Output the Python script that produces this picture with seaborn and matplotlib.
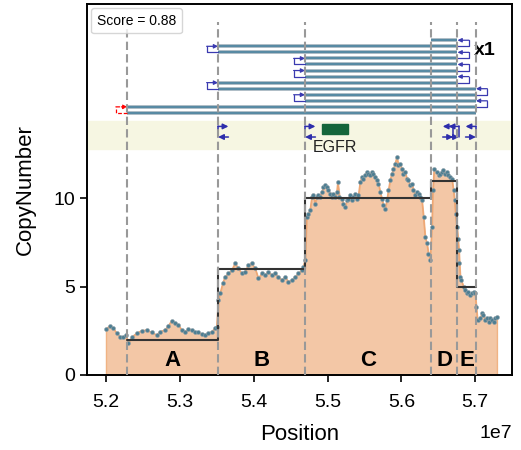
import numpy as np
import pandas as pd
import matplotlib
matplotlib.use("Agg")
import matplotlib.pyplot as plt
import seaborn as sns
from matplotlib.lines import Line2D
from matplotlib.patches import Rectangle

# ==============================================================
# Données (positions en Mb)
# ==============================================================

cn_pos = [
    52.000, 52.054, 52.099, 52.145, 52.190, 52.235, 52.271, 52.302, 52.348, 52.416,
    52.484, 52.551, 52.619, 52.687, 52.732, 52.799, 52.844, 52.890, 52.935, 52.980,
    53.026, 53.070, 53.115, 53.161, 53.206, 53.251, 53.297, 53.341, 53.386, 53.432,
    53.477, 53.500, 53.522, 53.545, 53.581, 53.612, 53.657, 53.703, 53.748, 53.793,
    53.839, 53.883, 53.928, 53.974, 54.019, 54.064, 54.110, 54.154, 54.199, 54.245,
    54.290, 54.335, 54.381, 54.425, 54.470, 54.516, 54.561, 54.606, 54.652, 54.673,
    54.696, 54.719, 54.741, 54.764, 54.787, 54.809, 54.832, 54.855, 54.877, 54.900,
    54.923, 54.945, 54.967, 54.990, 55.012, 55.035, 55.058, 55.080, 55.103, 55.126,
    55.139, 55.162, 55.194, 55.215, 55.238, 55.262, 55.283, 55.306, 55.329, 55.351,
    55.374, 55.397, 55.419, 55.442, 55.465, 55.487, 55.510, 55.533, 55.554, 55.577,
    55.600, 55.622, 55.645, 55.668, 55.690, 55.713, 55.736, 55.757, 55.780, 55.804,
    55.825, 55.848, 55.871, 55.893, 55.916, 55.939, 55.961, 55.984, 56.007, 56.028,
    56.051, 56.075, 56.096, 56.119, 56.142, 56.164, 56.187, 56.210, 56.232, 56.255,
    56.278, 56.300, 56.322, 56.346, 56.367, 56.390, 56.413, 56.427, 56.444, 56.481,
    56.503, 56.526, 56.549, 56.570, 56.593, 56.617, 56.638, 56.661, 56.684, 56.706,
    56.720, 56.733, 56.752, 56.766, 56.779, 56.787, 56.797, 56.810, 56.842, 56.864,
    56.888, 56.909, 56.932, 56.955, 56.977, 57.000, 57.014, 57.031, 57.068, 57.091,
    57.112, 57.136, 57.159, 57.180, 57.203, 57.226, 57.248, 57.271, 57.294,
]
cn_val = [
    2.60, 2.77, 2.64, 2.36, 2.17, 2.13, 2.26, 1.79, 2.13, 2.36,
    2.50, 2.54, 2.40, 2.26, 2.45, 2.54, 2.77, 3.07, 2.96, 2.83,
    2.54, 2.45, 2.58, 2.54, 2.45, 2.40, 2.32, 2.26, 2.36, 2.45,
    2.64, 2.73, 4.24, 4.62, 5.18, 5.55, 5.74, 5.93, 6.31, 6.03,
    5.74, 5.84, 6.22, 6.31, 6.03, 5.46, 5.74, 5.65, 5.84, 5.65,
    5.74, 5.55, 5.37, 5.55, 5.27, 5.37, 5.55, 5.74, 5.93, 6.12,
    6.50, 8.94, 9.13, 9.32, 10.07, 10.17, 9.70, 10.07, 10.17, 10.07,
    10.36, 10.64, 10.73, 10.64, 10.45, 10.26, 10.07, 10.26, 10.07, 10.36,
    10.92, 10.07, 9.98, 9.70, 9.51, 9.89, 9.98, 10.17, 9.89, 10.07,
    10.26, 9.98, 10.17, 10.92, 11.20, 11.11, 11.30, 11.49, 11.39, 11.30,
    11.49, 11.39, 11.20, 11.02, 10.83, 10.36, 9.98, 9.60, 9.42, 9.89,
    10.45, 11.02, 11.39, 11.67, 11.96, 12.33, 11.86, 11.96, 11.67, 11.39,
    11.49, 11.11, 11.02, 10.73, 10.83, 10.45, 10.17, 10.36, 10.26, 10.07,
    9.89, 8.94, 7.81, 7.44, 6.87, 6.50, 8.38, 10.45, 11.67, 11.49,
    11.30, 11.39, 11.49, 11.58, 11.39, 11.49, 11.30, 11.20, 11.11, 10.45,
    9.89, 9.13, 8.38, 7.72, 7.06, 6.31, 5.55, 5.37, 4.99, 4.80,
    4.62, 4.71, 4.52, 4.62, 4.71, 4.62, 3.86, 3.11, 3.20, 3.48,
    3.39, 3.11, 3.20, 3.01, 3.20, 3.11, 3.01, 3.20, 3.30,
]

# Segments et points de cassure
breakpoints = [52.289, 53.518, 54.696, 56.404, 56.760, 57.009]
seg_names = ["A", "B", "C", "D", "E"]
seg_cn = [2, 6, 10, 11, 5]

# Chemin du cycle : (indice de départ, indice de fin) dans breakpoints
path_start = [3, 1, 1, 2, 2, 2, 2, 1, 1, 2, 2, 0, 0]
path_end = [4, 4, 4, 4, 4, 4, 4, 4, 5, 5, 5, 5, 5]
path_mult = "x1"

# Marqueurs des cassures (bande jaune) : position et sens
edge_pos = [53.518, 54.696, 56.700, 56.780, 57.009]
edge_dir = [1, 1, -1, -1, -1]

gene_name = "EGFR"
gene_start, gene_end = 54.93, 55.28
score = 0.88

# ==============================================================
# Figure
# ==============================================================

sns.set_style("ticks")
plt.rcParams["font.family"] = ["Liberation Sans", "DejaVu Sans"]
plt.rcParams["text.color"] = "black"
plt.rcParams["axes.labelcolor"] = "black"
plt.rcParams["xtick.color"] = "black"
plt.rcParams["ytick.color"] = "black"
plt.rcParams["axes.edgecolor"] = "black"

MB = 1e6
df = pd.DataFrame({"Position": np.array(cn_pos) * MB, "CopyNumber": cn_val})
bp = np.array(breakpoints) * MB

fig, ax = plt.subplots(figsize=(5.21, 4.5), dpi=100)
fig.subplots_adjust(left=0.167, right=0.983, bottom=0.167, top=0.991)

# bande des gènes
ax.axhspan(12.8, 14.4, color="#f6f6e2", zorder=0)

# profil du nombre de copies
ax.fill_between(df["Position"], 0, df["CopyNumber"], facecolor="#f3c7a6",
                edgecolor="#f0b384", lw=1, zorder=1)
sns.lineplot(data=df, x="Position", y="CopyNumber", color="#eea774", lw=1,
             ax=ax, zorder=2)
sns.scatterplot(data=df, x="Position", y="CopyNumber", color="#4d7e92", s=8,
                edgecolor="#8d9ea6", linewidth=0.4, ax=ax, zorder=3)

# segments (ligne en escalier)
sx, sy = [], []
for i, c in enumerate(seg_cn):
    sx += [bp[i], bp[i + 1]]
    sy += [c, c]
ax.plot(sx, sy, color="#333333", lw=1.5, zorder=4)

for i, name in enumerate(seg_names):
    ax.text((bp[i] + bp[i + 1]) / 2, 0.8, name, ha="center", va="center",
            fontsize=16, fontweight="bold", zorder=6)

# lignes du cycle
row_top, row_step = 18.95, 0.343
w = 0.155 * MB
arrow_kw = dict(arrowstyle="-|>", lw=0.9, mutation_scale=6, shrinkA=0, shrinkB=0)
rows_y = [row_top - i * row_step for i in range(len(path_start))]
for i in range(len(path_start)):
    x0, x1 = bp[path_start[i]], bp[path_end[i]]
    ax.plot([x0, x1], [rows_y[i]] * 2, color="#a3b3bc", lw=2.6,
            solid_capstyle="butt", zorder=3)
    ax.plot([x0, x1], [rows_y[i]] * 2, color="#588aa3", lw=1.5,
            solid_capstyle="butt", zorder=3)

for i in range(len(path_start) - 1):
    y_up, y_lo = rows_y[i], rows_y[i + 1]
    last = i == len(path_start) - 2
    col = "red" if last else "#3a3ab0"
    ls = (0, (3, 1.5)) if last else "-"
    if i % 2 == 0:
        x = bp[path_end[i]]
        ax.plot([x, x + w, x + w], [y_lo, y_lo, y_up], color=col, lw=0.9,
                ls=ls, zorder=4)
        ax.annotate("", xy=(x, y_up), xytext=(x + w, y_up),
                    arrowprops=dict(color=col, linestyle=ls, **arrow_kw), zorder=4)
    else:
        x = bp[path_start[i]]
        ax.plot([x, x - w, x - w], [y_lo, y_lo, y_up], color=col, lw=0.9,
                ls=ls, zorder=4)
        ax.annotate("", xy=(x, y_up), xytext=(x - w, y_up),
                    arrowprops=dict(color=col, linestyle=ls, **arrow_kw), zorder=4)

ax.text(56.977 * MB, 18.36, path_mult, ha="left", va="center", fontsize=14,
        fontweight="bold")

# marqueurs des cassures dans la bande
ew = 0.14 * MB
e_top, e_bot = 14.07, 13.47
edge_arrow = dict(arrowstyle="-|>", lw=1.1, mutation_scale=8, shrinkA=0,
                  shrinkB=0, color="#2d2dab")
for p, d in zip(edge_pos, edge_dir):
    x = p * MB
    ax.plot([x, x], [e_bot, e_top], color="#2d2dab", lw=1.1, zorder=4)
    ax.annotate("", xy=(x + d * ew, e_top), xytext=(x, e_top),
                arrowprops=edge_arrow)
    ax.annotate("", xy=(x, e_bot), xytext=(x + d * ew, e_bot),
                arrowprops=edge_arrow)

# gène
ax.add_patch(Rectangle((gene_start * MB, 13.66), (gene_end - gene_start) * MB,
                       0.56, color="#14653a", zorder=4))
ax.text((gene_start + gene_end) / 2 * MB, 12.86, gene_name, ha="center",
        va="center", fontsize=11.5, color="#222222", zorder=5)

# lignes verticales des points de cassure
ax.vlines(bp, 0, 20, colors="#999999", linestyles=(0, (4, 2)), lw=1.5, zorder=5)

# axes
ax.set_xlim(51.743 * MB, 57.50 * MB)
ax.set_ylim(0, 21)
ax.set_yticks([0, 5, 10])
ax.set_xlabel("Position", fontsize=16, labelpad=9)
ax.set_ylabel("CopyNumber", fontsize=16, labelpad=13)
ax.tick_params(labelsize=14, width=1.2, length=5)
ax.tick_params(axis="x", pad=9)
ax.xaxis.OFFSETTEXTPAD = 10
ax.xaxis.get_offset_text().set_fontsize(14)
for s in ax.spines.values():
    s.set_linewidth(1.4)

ax.legend(handles=[Line2D([], [], linestyle="none")],
          labels=[f"Score = {score}"], loc="upper left", fontsize=10,
          handlelength=0, handletextpad=0, borderaxespad=0.3)

plt.savefig("out.png", dpi=100)
